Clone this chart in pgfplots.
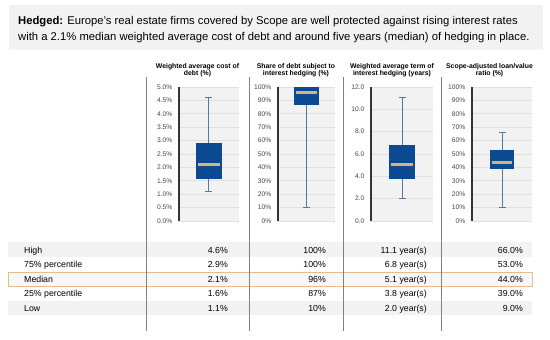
\documentclass[border=0pt]{standalone}
\usepackage{fontspec}
\setmainfont{Liberation Sans}
\usepackage{pgfplots}
\pgfplotsset{compat=1.18}
\usepgfplotslibrary{statistics}
\definecolor{boxblue}{RGB}{11,74,145}
\definecolor{medc}{RGB}{214,180,115}
\definecolor{whiskc}{RGB}{84,122,160}
\definecolor{bgc}{RGB}{242,242,242}
\definecolor{gridc}{RGB}{224,224,224}
\definecolor{tickc}{RGB}{70,70,70}
\definecolor{sepc}{RGB}{128,128,128}
\definecolor{rowc}{RGB}{242,242,242}
\definecolor{medrow}{RGB}{227,190,140}
\pgfplotsset{panel/.style={
  scale only axis, height=134bp, anchor=south west,
  xmin=-1, xmax=1, ymin=0,
  axis x line=none, axis y line*=left,
  y axis line style={line width=1.6bp, draw=black!80},
  axis background/.style={fill=bgc},
  ymajorgrids, grid style={draw=gridc, line width=0.7bp},
  major tick length=0pt, ytick style={draw=none},
  /pgf/number format/assume math mode=true,
  yticklabel style={font=\fontsize{6.7}{7}\selectfont, text=tickc, inner sep=0pt, xshift=-6.5bp},
  clip=false,
  boxplot/draw direction=y,
  boxplot/every box/.style={fill=boxblue, draw=boxblue, line width=0.5bp},
  boxplot/every whisker/.style={draw=whiskc, line width=0.9bp},
  boxplot/every median/.style={draw=medc, line width=3bp, shorten <=1.2bp, shorten >=1.2bp},
}}
\newcommand{\ttl}{\fontsize{6.9}{7}\selectfont\bfseries}
\newcommand{\tbl}{\fontsize{8.8}{10}\selectfont}
\begin{document}
\begin{tikzpicture}
\path[use as bounding box, fill=white] (0bp,0bp) rectangle (550bp,-340bp);
% title band
\fill[bgc] (9bp,-5bp) rectangle (543bp,-50bp);
\node[anchor=base west, inner sep=0pt, font=\fontsize{11.3}{12}\selectfont] at (18bp,-24bp) {\textbf{Hedged:} Europe's real estate firms covered by Scope are well protected against rising interest rates};
\node[anchor=base west, inner sep=0pt, font=\fontsize{11.3}{12}\selectfont] at (18bp,-40bp) {with a 2.1\% median weighted average cost of debt and around five years (median) of hedging in place.};
% panel titles
\node[anchor=base, inner sep=0pt, font=\ttl] at (197.5bp,-68.5bp) {Weighted average cost of};
\node[anchor=base, inner sep=0pt, font=\ttl] at (197.5bp,-75.5bp) {debt (\%)};
\node[anchor=base, inner sep=0pt, font=\ttl] at (296bp,-68.5bp) {Share of debt subject to};
\node[anchor=base, inner sep=0pt, font=\ttl] at (296bp,-75.5bp) {interest hedging (\%)};
\node[anchor=base, inner sep=0pt, font=\ttl] at (392bp,-68.5bp) {Weighted average term of};
\node[anchor=base, inner sep=0pt, font=\ttl] at (392bp,-75.5bp) {interest hedging (years)};
\node[anchor=base, inner sep=0pt, font=\ttl] at (489.5bp,-68.5bp) {Scope-adjusted loan/value};
\node[anchor=base, inner sep=0pt, font=\ttl] at (489.5bp,-75.5bp) {ratio (\%)};
% table rows
\fill[rowc] (8bp,-242bp) rectangle (532bp,-256.5bp);
\fill[rowc!60!white] (8bp,-272bp) rectangle (532bp,-286.5bp);
\draw[medrow, line width=0.8bp] (8bp,-272bp) rectangle (532bp,-286.5bp);
\fill[rowc] (8bp,-301bp) rectangle (532bp,-315bp);
% separators
\foreach \sx in {146.5,249,343.5,441}{
  \draw[sepc, line width=0.8bp] (\sx bp,-76.5bp) -- (\sx bp,-331bp);
}
% table text
\foreach \lab/\yy/\a/\b/\c/\d in {
  High/253/4.6\%/100\%/11.1 year(s)/66.0\%,
  75\% percentile/267.5/2.9\%/100\%/6.8 year(s)/53.0\%,
  Median/282/2.1\%/96\%/5.1 year(s)/44.0\%,
  25\% percentile/296.8/1.6\%/87\%/3.8 year(s)/39.0\%,
  Low/311/1.1\%/10\%/2.0 year(s)/9.0\%}{
  \node[anchor=base west, inner sep=0pt, font=\tbl] at (24bp,-\yy bp) {\lab};
  \node[anchor=base east, inner sep=0pt, font=\tbl] at (228bp,-\yy bp) {\a};
  \node[anchor=base east, inner sep=0pt, font=\tbl] at (326bp,-\yy bp) {\b};
  \node[anchor=base east, inner sep=0pt, font=\tbl] at (427bp,-\yy bp) {\c};
  \node[anchor=base east, inner sep=0pt, font=\tbl] at (523bp,-\yy bp) {\d};
}
% panel 1
\begin{axis}[panel, at={(179bp,-221bp)}, width=59.5bp, ymax=5,
  ytick={0,0.5,1,1.5,2,2.5,3,3.5,4,4.5,5},
  yticklabel={\pgfmathprintnumber[fixed,fixed zerofill,precision=1]{\tick}\%}]
\addplot[boxplot prepared={draw position=0, median=2.1, upper quartile=2.9, lower quartile=1.6, upper whisker=4.6, lower whisker=1.1, box extend=0.81, whisker extend=0.235}] coordinates {};
\end{axis}
% panel 2
\begin{axis}[panel, at={(278bp,-221bp)}, width=57bp, ymax=100,
  ytick={0,10,...,100},
  yticklabel={\pgfmathprintnumber[fixed,precision=0]{\tick}\%}]
\addplot[boxplot prepared={draw position=0, median=96, upper quartile=100, lower quartile=87, upper whisker=100, lower whisker=10, box extend=0.84, whisker extend=0.245}] coordinates {};
\end{axis}
% panel 3
\begin{axis}[panel, at={(371bp,-221bp)}, width=62bp, ymax=12,
  ytick={0,2,4,6,8,10,12},
  yticklabel={\pgfmathprintnumber[fixed,fixed zerofill,precision=1]{\tick}}]
\addplot[boxplot prepared={draw position=0, median=5.1, upper quartile=6.8, lower quartile=3.8, upper whisker=11.1, lower whisker=2.0, box extend=0.81, whisker extend=0.226}] coordinates {};
\end{axis}
% panel 4
\begin{axis}[panel, at={(472bp,-221bp)}, width=60bp, ymax=100,
  ytick={0,10,...,100},
  yticklabel={\pgfmathprintnumber[fixed,precision=0]{\tick}\%}]
\addplot[boxplot prepared={draw position=0, median=44, upper quartile=53, lower quartile=39, upper whisker=66, lower whisker=10, box extend=0.77, whisker extend=0.233}] coordinates {};
\end{axis}
\end{tikzpicture}
\end{document}
